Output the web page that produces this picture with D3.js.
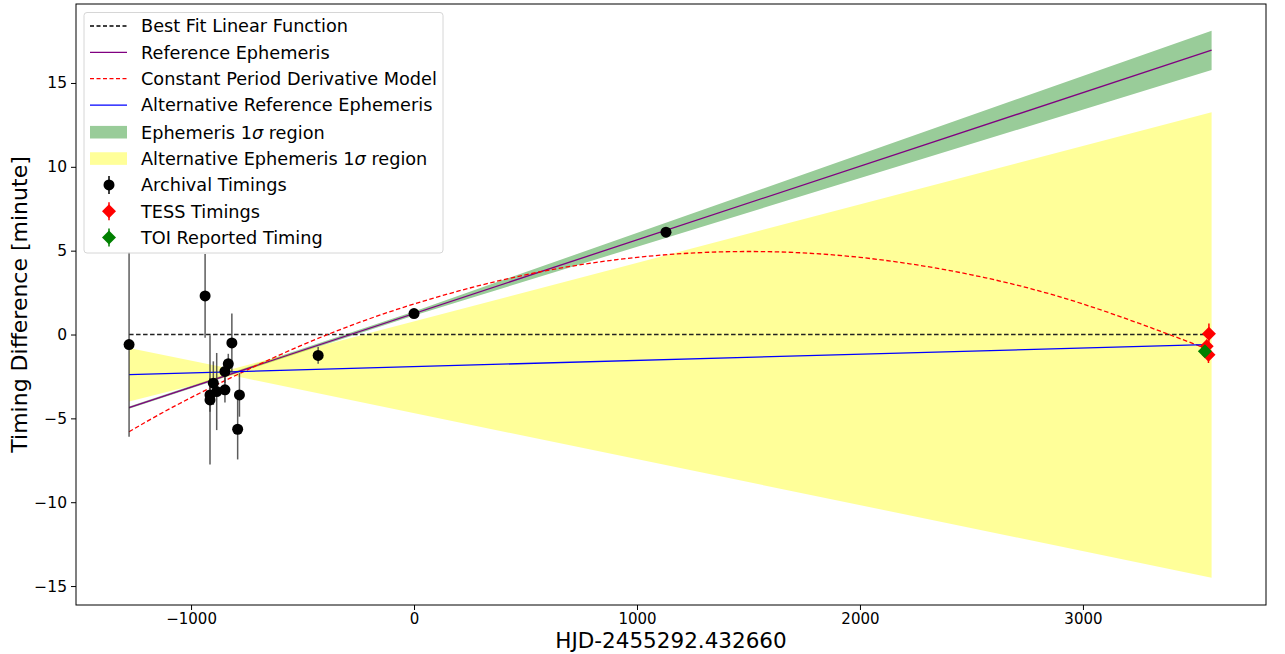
<!DOCTYPE html>
<html>
<head>
<meta charset="utf-8">
<script src="https://cdn.jsdelivr.net/npm/d3@7"></script>
<style>
  body { margin: 0; background: #fff; }
  svg { font-family: "DejaVu Sans", sans-serif; }
</style>
</head>
<body>
<div class="chart"></div>
<script>
// archival timings (x in days, y in minutes, symmetric error)
const archX = [-1278, -937, -915, -915, -900, -885, -848, -848, -833, -817, -791, -783, -430, 0, 1130];
const archY = [-0.6, 2.3, -3.9, -3.6, -2.9, -3.4, -3.3, -2.2, -1.75, -0.5, -5.65, -3.6, -1.25, 1.25, 6.1];
const archErr = [5.5, 2.5, 3.85, 1.0, 1.3, 2.3, 0.75, 0.7, 0.6, 1.75, 1.8, 1.3, 0.5, 0.15, 0.2];

const tessX = [3565, 3555, 3563];
const tessY = [0.05, -0.7, -1.2];
const tessErr = [0.6, 0.4, 0.5];

const toiX = [3547];
const toiY = [-1.0];
const toiErr = [0.2];

// model lines
const fitX = [-1278, 3560], fitY = [0, 0];
const refX = [-1278, 3577], refY = [-4.36, 16.96];
const altX = [-1278, 3547], altY = [-2.39, -0.6];
const cpdX = [-1278, -1000, -500, 0, 500, 1000, 1500, 2000, 2500, 3000, 3556];
const cpdY = [-5.8, -3.76, -0.62, 1.82, 3.56, 4.6, 4.95, 4.6, 3.56, 1.82, -0.85];

// 1 sigma regions
const gBandX = [-1278, 0, 3577];
const gBandLo = [-4.42, 1.14, 15.77];
const gBandHi = [-4.30, 1.38, 18.12];
const yBandX = [-1278, -815, 3577];
const yBandLo = [-4.0, -2.45, -14.5];
const yBandHi = [-0.8, -2.05, 13.25];

const xTicks = [-1000, 0, 1000, 2000, 3000];
const yTicks = [-15, -10, -5, 0, 5, 10, 15];

const legendItems = [
  { label: "Best Fit Linear Function", kind: "line", color: "black", dash: "4,2.5" },
  { label: "Reference Ephemeris", kind: "line", color: "purple" },
  { label: "Constant Period Derivative Model", kind: "line", color: "red", dash: "4,2.5" },
  { label: "Alternative Reference Ephemeris", kind: "line", color: "blue" },
  { label: "Ephemeris 1", sigma: " region", kind: "patch", color: "#99cc99" },
  { label: "Alternative Ephemeris 1", sigma: " region", kind: "patch", color: "#ffff99" },
  { label: "Archival Timings", kind: "circle", color: "black" },
  { label: "TESS Timings", kind: "diamond", color: "red" },
  { label: "TOI Reported Timing", kind: "diamond", color: "green" }
];

const W = 1285, H = 654;
const plot = { left: 76, right: 1266, top: 4, bottom: 605 };

const svg = d3.select(".chart").append("svg")
    .attr("width", W)
    .attr("height", H);

const x = d3.scaleLinear().domain([-1516, 3821]).range([plot.left, plot.right]);
const y = d3.scaleLinear().domain([-16.13, 19.71]).range([plot.bottom, plot.top]);

svg.append("clipPath").attr("id", "clip")
  .append("rect")
    .attr("x", plot.left).attr("y", plot.top)
    .attr("width", plot.right - plot.left).attr("height", plot.bottom - plot.top);

const g = svg.append("g").attr("clip-path", "url(#clip)");

const zip = (xs, ys) => xs.map((v, i) => [v, ys[i]]);

function band(xs, lo, hi, color, opacity) {
  const area = d3.area()
      .x(d => x(d[0]))
      .y0(d => y(d[1]))
      .y1(d => y(d[2]));
  g.append("path")
      .datum(xs.map((v, i) => [v, lo[i], hi[i]]))
      .attr("fill", color)
      .attr("fill-opacity", opacity)
      .attr("d", area);
}

band(gBandX, gBandLo, gBandHi, "#99cc99", 1);
band(yBandX, yBandLo, yBandHi, "yellow", 0.4);

function drawLine(xs, ys, color, dash, curve) {
  const line = d3.line()
      .x(d => x(d[0]))
      .y(d => y(d[1]))
      .curve(curve || d3.curveLinear);
  g.append("path")
      .datum(zip(xs, ys))
      .attr("fill", "none")
      .attr("stroke", color)
      .attr("stroke-width", 1.3)
      .attr("stroke-dasharray", dash || null)
      .attr("d", line);
}

drawLine(fitX, fitY, "#222", "4.5,2.5");
drawLine(refX, refY, "purple");
drawLine(cpdX, cpdY, "red", "4.5,2.5", d3.curveNatural);
drawLine(altX, altY, "blue");

function errorbars(xs, ys, es, color, shape, size) {
  const data = xs.map((v, i) => ({ x: v, y: ys[i], e: es[i] }));
  const eg = g.append("g");
  eg.selectAll("line")
    .data(data)
    .join("line")
      .attr("x1", d => x(d.x)).attr("x2", d => x(d.x))
      .attr("y1", d => y(d.y - d.e)).attr("y2", d => y(d.y + d.e))
      .attr("stroke", shape === "circle" ? "#333" : color)
      .attr("stroke-opacity", shape === "circle" ? 0.8 : 1)
      .attr("stroke-width", 1.5);
  if (shape === "circle") {
    eg.selectAll("circle")
      .data(data)
      .join("circle")
        .attr("cx", d => x(d.x)).attr("cy", d => y(d.y))
        .attr("r", 5.5)
        .attr("fill", color);
  } else {
    eg.selectAll("path.m")
      .data(data)
      .join("path")
        .attr("class", "m")
        .attr("transform", d => `translate(${x(d.x)},${y(d.y)})`)
        .attr("d", `M0,${-size}L${size},0L0,${size}L${-size},0Z`)
        .attr("fill", color);
  }
}

errorbars(archX, archY, archErr, "black", "circle", 5.5);
errorbars(tessX, tessY, tessErr, "red", "diamond", 7);
errorbars(toiX, toiY, toiErr, "green", "diamond", 7);

// axes
const xAxis = d3.axisBottom(x).tickValues(xTicks).tickFormat(d3.format("d")).tickSize(5).tickPadding(3);
const yAxis = d3.axisLeft(y).tickValues(yTicks).tickFormat(d3.format("d")).tickSize(5).tickPadding(4);

svg.append("g")
    .attr("transform", `translate(0,${plot.bottom})`)
    .call(xAxis)
    .call(a => a.select(".domain").remove())
    .call(a => a.selectAll("text").attr("font-size", 15).attr("font-family", "DejaVu Sans").attr("fill", "black"))
    .call(a => a.selectAll("line").attr("stroke", "black"));

svg.append("g")
    .attr("transform", `translate(${plot.left},0)`)
    .call(yAxis)
    .call(a => a.select(".domain").remove())
    .call(a => a.selectAll("text").attr("font-size", 15.5).attr("font-family", "DejaVu Sans").attr("fill", "black"))
    .call(a => a.selectAll("line").attr("stroke", "black"));

svg.append("rect")
    .attr("x", plot.left).attr("y", plot.top)
    .attr("width", plot.right - plot.left).attr("height", plot.bottom - plot.top)
    .attr("fill", "none")
    .attr("stroke", "black")
    .attr("stroke-width", 1);

svg.append("text")
    .attr("x", (plot.left + plot.right) / 2)
    .attr("y", 648)
    .attr("text-anchor", "middle")
    .attr("font-size", 21.5)
    .text("HJD-2455292.432660");

svg.append("text")
    .attr("transform", `translate(27,${(plot.top + plot.bottom) / 2}) rotate(-90)`)
    .attr("text-anchor", "middle")
    .attr("font-size", 22)
    .text("Timing Difference [minute]");

// legend
const leg = svg.append("g");
leg.append("rect")
    .attr("x", 84).attr("y", 12.5)
    .attr("width", 359).attr("height", 240.5)
    .attr("rx", 3)
    .attr("fill", "white").attr("fill-opacity", 0.8)
    .attr("stroke", "#d6d6d6");

legendItems.forEach((d, i) => {
  const cy = 26 + i * 26.35 + (i >= 4 ? 0.8 : 0);
  const row = leg.append("g");
  if (d.kind === "line") {
    row.append("line")
        .attr("x1", 90).attr("x2", 127).attr("y1", cy).attr("y2", cy)
        .attr("stroke", d.color).attr("stroke-width", 1.3)
        .attr("stroke-dasharray", d.dash || null);
  } else if (d.kind === "patch") {
    row.append("rect")
        .attr("x", 90).attr("y", cy - 6.3).attr("width", 37).attr("height", 12.6)
        .attr("fill", d.color);
  } else {
    row.append("line")
        .attr("x1", 109).attr("x2", 109).attr("y1", cy - 9).attr("y2", cy + 9)
        .attr("stroke", d.color).attr("stroke-width", 1.5);
    if (d.kind === "circle") {
      row.append("circle").attr("cx", 109).attr("cy", cy).attr("r", 5.5).attr("fill", d.color);
    } else {
      row.append("path")
          .attr("transform", `translate(109,${cy})`)
          .attr("d", "M0,-7L7,0L0,7L-7,0Z")
          .attr("fill", d.color);
    }
  }
  const t = row.append("text")
      .attr("x", 141).attr("y", cy)
      .attr("dy", "0.36em")
      .attr("font-size", 17.7);
  t.append("tspan").text(d.label);
  if (d.sigma) {
    t.append("tspan").attr("font-style", "italic").text("σ");
    t.append("tspan").text(d.sigma);
  }
});
</script>
</body>
</html>
